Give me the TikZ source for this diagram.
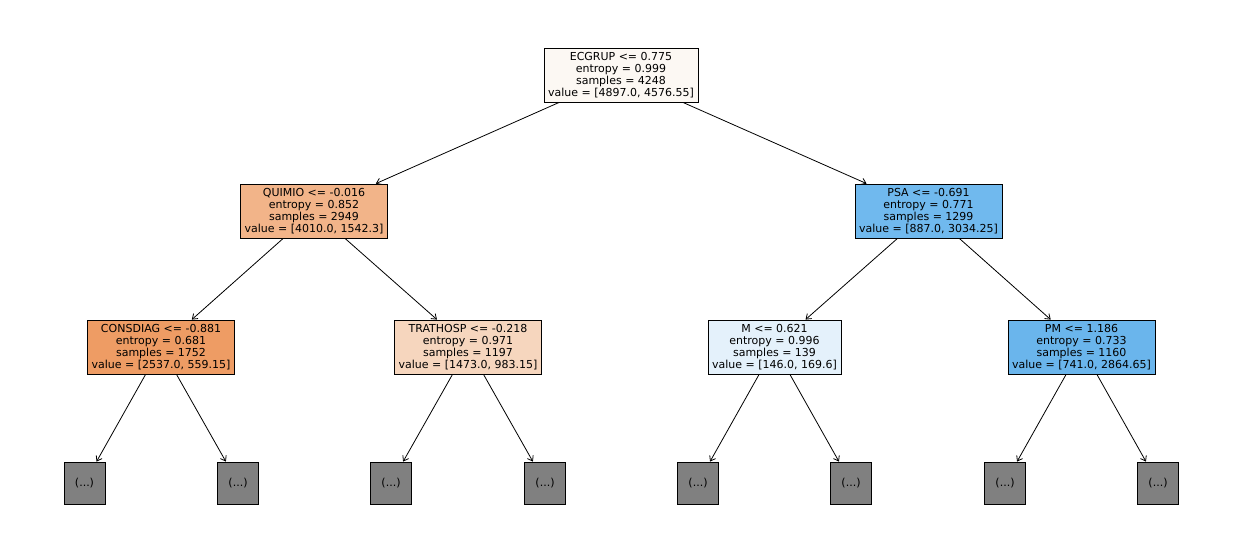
\documentclass[tikz,border=0pt]{standalone}
\usepackage{fontspec}
\setmainfont{DejaVu Sans}
\usetikzlibrary{arrows.meta}
\definecolor{rootfill}{HTML}{FCF8F3}
\definecolor{quimiofill}{HTML}{F2B489}
\definecolor{consdiagfill}{HTML}{EE9C64}
\definecolor{trathospfill}{HTML}{F6D6BE}
\definecolor{psafill}{HTML}{70B9EE}
\definecolor{mfill}{HTML}{E4F1FB}
\definecolor{pmfill}{HTML}{6AB5EC}
\definecolor{leafgray}{HTML}{808080}

\tikzset{
  split/.style={draw=black, line width=0.6pt, align=center, inner xsep=3pt,
    inner ysep=1pt, minimum height=40.5pt},
  leaf/.style={draw=black, fill=leafgray, line width=0.6pt,
    minimum width=30.75pt, minimum height=31.5pt, inner sep=0pt},
  edge/.style={->, line width=0.6pt}
}

\begin{document}
\begin{tikzpicture}[x=0.75pt, y=-0.75pt, >={Straight Barb[length=3.5pt,width=5pt]},
  font=\fontsize{8.25}{9}\selectfont]
  \useasboundingbox (0,0) rectangle (1242,558);

  \node[split, fill=rootfill] (ecgrup) at (621,75)
    {ECGRUP <= 0.775\\entropy = 0.999\\samples = 4248\\value = [4897.0, 4576.55]};

  \node[split, fill=quimiofill] (quimio) at (314,211)
    {QUIMIO <= -0.016\\entropy = 0.852\\samples = 2949\\value = [4010.0, 1542.3]};
  \node[split, fill=psafill] (psa) at (928.5,211)
    {PSA <= -0.691\\entropy = 0.771\\samples = 1299\\value = [887.0, 3034.25]};

  \node[split, fill=consdiagfill] (consdiag) at (161,347)
    {CONSDIAG <= -0.881\\entropy = 0.681\\samples = 1752\\value = [2537.0, 559.15]};
  \node[split, fill=trathospfill] (trathosp) at (468,347)
    {TRATHOSP <= -0.218\\entropy = 0.971\\samples = 1197\\value = [1473.0, 983.15]};
  \node[split, fill=mfill] (m) at (774.5,347)
    {M <= 0.621\\entropy = 0.996\\samples = 139\\value = [146.0, 169.6]};
  \node[split, fill=pmfill] (pm) at (1081.5,347)
    {PM <= 1.186\\entropy = 0.733\\samples = 1160\\value = [741.0, 2864.65]};

  % truncated subtrees
  \node[leaf] (l1) at (84.5,483) {(...)};
  \node[leaf] (l2) at (238,483) {(...)};
  \node[leaf] (l3) at (391,483) {(...)};
  \node[leaf] (l4) at (545,483) {(...)};
  \node[leaf] (l5) at (698,483) {(...)};
  \node[leaf] (l6) at (851,483) {(...)};
  \node[leaf] (l7) at (1005,483) {(...)};
  \node[leaf] (l8) at (1158,483) {(...)};

  \draw[edge] (ecgrup) -- (quimio);
  \draw[edge] (ecgrup) -- (psa);
  \draw[edge] (quimio) -- (consdiag);
  \draw[edge] (quimio) -- (trathosp);
  \draw[edge] (psa) -- (m);
  \draw[edge] (psa) -- (pm);
  \draw[edge] (consdiag) -- (l1);
  \draw[edge] (consdiag) -- (l2);
  \draw[edge] (trathosp) -- (l3);
  \draw[edge] (trathosp) -- (l4);
  \draw[edge] (m) -- (l5);
  \draw[edge] (m) -- (l6);
  \draw[edge] (pm) -- (l7);
  \draw[edge] (pm) -- (l8);
\end{tikzpicture}
\end{document}
